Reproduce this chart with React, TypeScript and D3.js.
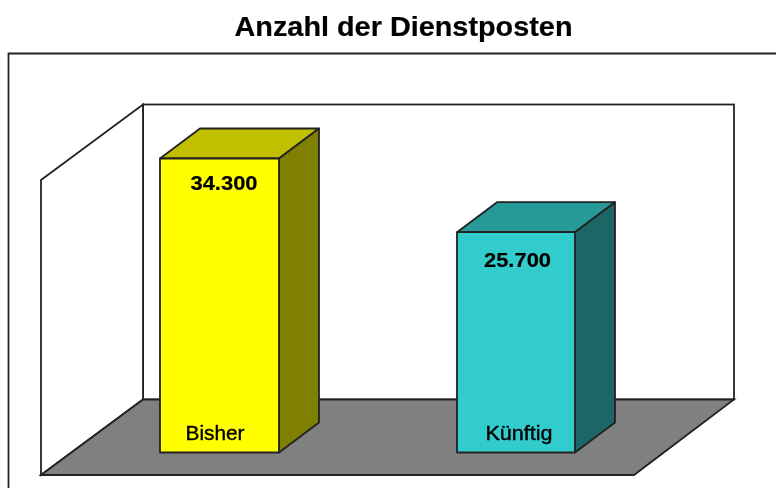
import React from "react";
import * as d3 from "d3";

const categories = ["Bisher", "Künftig"];
const values = [34300, 25700];
const valueLabels = ["34.300", "25.700"];
const frontColors = ["#ffff00", "#33cccc"];
const topColors = ["#c0c000", "#269999"];
const sideColors = ["#808000", "#1a6666"];

const W = 776, H = 488;
const FONT = "'Liberation Sans', Arial, sans-serif";
const STROKE = "#222";
const LINE = 1.8;
const depthX = 40, depthY = 30;

export default function App() {
  const barX = d3.scalePoint<string>().domain(categories).range([160, 457]);
  const barW = 119;
  const y = d3.scaleLinear().domain([0, 34300]).range([452.5, 158.5]);
  const poly = d3.line();
  const closed = (pts: [number, number][]) => poly(pts) + "Z";

  const wallTop = 104.5, wallBottom = 399.5, wallL = 143, wallR = 734;
  const frontL = 41, frontR = 634, frontB = 475, frontT = 180;

  const valueCx = [64, 60.5];
  const valueDy = [31.5, 35];
  const labelCx = [55, 62];
  const labelW = [59, 67];

  return (
    <svg width={W} height={H} style={{ position: "absolute", left: 0, top: 0, display: "block", background: "#fff" }}>
      <defs>
        <filter id="soft" x="-2%" y="-2%" width="104%" height="104%">
          <feGaussianBlur stdDeviation="0.5" />
        </filter>
      </defs>
      <g filter="url(#soft)">
        <text x={403.5} y={36} textAnchor="middle" fontFamily={FONT} fontWeight="bold" fontSize={28} textLength={338} lengthAdjust="spacingAndGlyphs" fill="#000" stroke="#000" strokeWidth={0.2}>
          Anzahl der Dienstposten
        </text>
        <path d={`M8.5,488V53.5H776`} fill="none" stroke={STROKE} strokeWidth={LINE} />
        <rect x={wallL} y={wallTop} width={wallR - wallL} height={wallBottom - wallTop} fill="#fff" stroke={STROKE} strokeWidth={LINE} />
        <path d={closed([[frontL, frontT], [wallL, wallTop], [wallL, wallBottom], [frontL, frontB]])} fill="#fff" stroke={STROKE} strokeWidth={LINE} />
        <path d={closed([[frontL, frontB], [wallL, wallBottom], [wallR, wallBottom], [frontR, frontB]])} fill="#808080" stroke={STROKE} strokeWidth={LINE} />
        {categories.map((c, i) => {
          const l = barX(c)!;
          const r = l + barW - (i === 1 ? 1 : 0);
          const t = y(values[i]);
          const b = y(0);
          return (
            <g key={c} stroke={STROKE} strokeWidth={LINE} strokeLinejoin="round">
              <path d={closed([[l, t], [l + depthX, t - depthY], [r + depthX, t - depthY], [r, t]])} fill={topColors[i]} />
              <path d={closed([[r, t], [r + depthX, t - depthY], [r + depthX, b - depthY], [r, b]])} fill={sideColors[i]} />
              <rect x={l} y={t} width={r - l} height={b - t} fill={frontColors[i]} />
              <text x={l + valueCx[i]} y={t + valueDy[i]} textAnchor="middle" stroke="#000" strokeWidth={0.2} fontFamily={FONT} fontWeight="bold" fontSize={21} textLength={67} lengthAdjust="spacingAndGlyphs" fill="#000">
                {valueLabels[i]}
              </text>
              <text x={l + labelCx[i]} y={b - 13} textAnchor="middle" stroke="#000" strokeWidth={0.4} fontFamily={FONT} fontSize={20} textLength={labelW[i]} lengthAdjust="spacingAndGlyphs" fill="#000">
                {c}
              </text>
            </g>
          );
        })}
      </g>
    </svg>
  );
}
